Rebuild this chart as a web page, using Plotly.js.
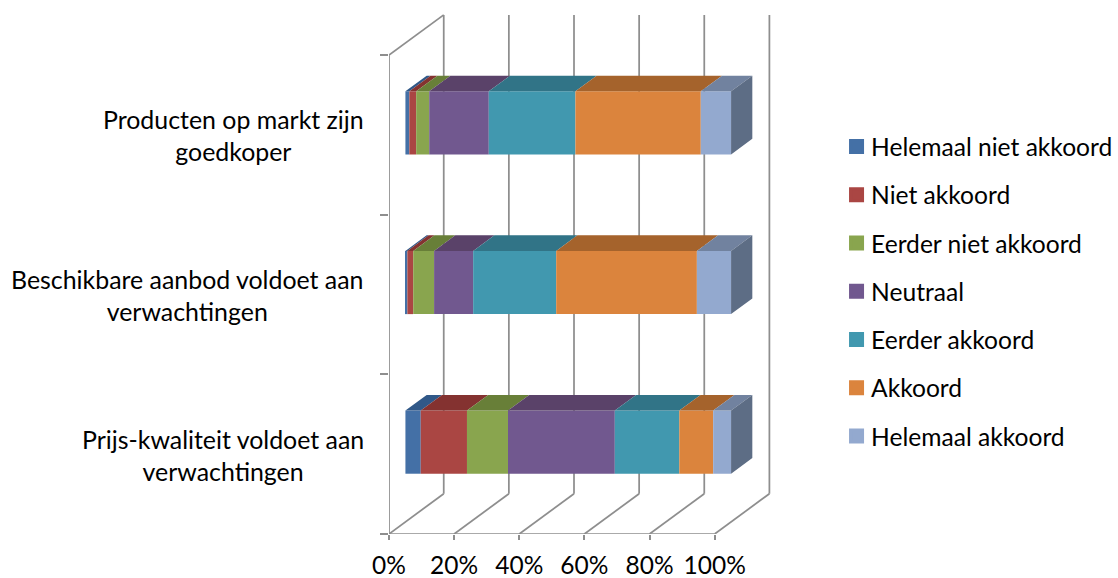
<!DOCTYPE html>
<html>
<head>
<meta charset="utf-8">
<script src="https://cdn.plot.ly/plotly-3.0.1.min.js"></script>
<style>
  html, body { margin: 0; padding: 0; background: #fff; }
  #chart { width: 1118px; height: 578px; }
</style>
</head>
<body>
<div id="chart"></div>
<script>
// Agreement survey: share of answers per statement, stacked to 100%.
const categories = [
  'Prijs-kwaliteit voldoet aan<br>verwachtingen',
  'Beschikbare aanbod voldoet aan<br>verwachtingen',
  'Producten op markt zijn<br>goedkoper'
];
const seriesNames = [
  'Helemaal niet akkoord', 'Niet akkoord', 'Eerder niet akkoord',
  'Neutraal', 'Eerder akkoord', 'Akkoord', 'Helemaal akkoord'
];
const helemaalNiet = [4.7, 0.6, 1.2];
const niet         = [14.2, 1.8, 2.1];
const eerderNiet   = [12.6, 6.4, 4.0];
const neutraal     = [32.8, 12.0, 18.3];
const eerder       = [19.8, 25.5, 26.6];
const akkoord      = [10.4, 43.2, 38.5];
const helemaal     = [5.5, 10.5, 9.3];
const seriesValues = [helemaalNiet, niet, eerderNiet, neutraal, eerder, akkoord, helemaal];

const frontColors = ['#4470a6', '#aa4643', '#89a54e', '#71588f', '#4198af', '#db843d', '#93a9cf'];
const topColors   = ['#305888', '#843230', '#687f38', '#5a4269', '#317487', '#a5632c', '#71829f'];
const sideColor = '#5d6d85';
const gridColor = '#8e8e8e';
const textColor = '#000000';
const fontFamily = 'Lato, "Open Sans", sans-serif';
const fontSize = 24.5;

// Page geometry of the front floor edge and the oblique depth axis.
const plotLeft = 389.3, plotRight = 773, plotBottom = 534.3, plotTop = 10;
const pxPerPct = 3.254, pxPerCat = 159.7;
const depthPxX = 54.7, depthPxY = 40.3;
const xMax = (plotRight - plotLeft) / pxPerPct;
const yMax = (plotBottom - plotTop) / pxPerCat;

// Oblique projection: depth 0 is the front plane, depth 1 the back wall.
const projX = (pct, d) => pct + d * depthPxX / pxPerPct;
const projY = (val, d) => val + d * depthPxY / pxPerCat;

const barFront = 0.3, barBack = 0.688, barThick = 0.396;
const catPos = categories.map((_, i) => i + 0.5);
const xTicks = [0, 20, 40, 60, 80, 100];
const yTicks = [0, 1, 2, 3];

const cumulative = categories.map(() => 0);
const barTraces = [], topTraces = [];

seriesValues.forEach((vals, s) => {
  const bases = vals.map((_, c) => cumulative[c]);
  barTraces.push({
    type: 'bar', orientation: 'h', name: seriesNames[s],
    legendgroup: seriesNames[s],
    x: vals,
    base: bases.map(b => projX(b, barFront)),
    y: catPos.map(p => projY(p, barFront)),
    width: barThick,
    marker: { color: frontColors[s], line: { width: 0 } },
    hoverinfo: 'name+x'
  });
  const tx = [], ty = [];
  vals.forEach((v, c) => {
    const top = catPos[c] + barThick / 2;
    const a = bases[c], b = bases[c] + v;
    tx.push(projX(a, barFront), projX(b, barFront), projX(b, barBack), projX(a, barBack), projX(a, barFront), null);
    ty.push(projY(top, barFront), projY(top, barFront), projY(top, barBack), projY(top, barBack), projY(top, barFront), null);
    cumulative[c] += v;
  });
  topTraces.push({
    type: 'scatter', mode: 'lines', x: tx, y: ty, fill: 'toself',
    fillcolor: topColors[s], line: { width: 0 },
    showlegend: false, hoverinfo: 'skip'
  });
});

// Right-hand end caps of the stacked bars.
const sideX = [], sideY = [];
catPos.forEach((p, c) => {
  const end = cumulative[c];
  const lo = p - barThick / 2, hi = p + barThick / 2;
  sideX.push(projX(end, barFront), projX(end, barFront), projX(end, barBack), projX(end, barBack), projX(end, barFront), null);
  sideY.push(projY(lo, barFront), projY(hi, barFront), projY(hi, barBack), projY(lo, barBack), projY(lo, barFront), null);
});
const sideTrace = {
  type: 'scatter', mode: 'lines', x: sideX, y: sideY, fill: 'toself',
  fillcolor: sideColor, line: { width: 0 }, showlegend: false, hoverinfo: 'skip'
};

// Floor edges, wall verticals and the outline of the side wall, behind the bars.
const wallLine = (x0, y0, x1, y1) => ({
  type: 'line', layer: 'below', xref: 'x', yref: 'y', x0, y0, x1, y1,
  line: { color: gridColor, width: 1.75 }
});
const shapes = [
  wallLine(0, 0, 0, 3),
  wallLine(0, 0, 100, 0),
  wallLine(projX(0, 0), 3, projX(0, 1), projY(3, 1))
];
xTicks.forEach(t => {
  shapes.push(wallLine(t, 0, projX(t, 1), projY(0, 1)));
  shapes.push(wallLine(projX(t, 1), projY(0, 1), projX(t, 1), projY(3, 1)));
});

const annotations = categories.map((text, i) => ({
  text, xref: 'paper', yref: 'y',
  x: (366 - plotLeft) / (plotRight - plotLeft), y: catPos[i],
  xanchor: 'right', yanchor: 'middle', align: 'center', showarrow: false,
  yshift: -0.5,
  font: { family: fontFamily, size: 24.9, color: textColor }
}));

const layout = {
  width: 1118, height: 578,
  paper_bgcolor: '#ffffff', plot_bgcolor: '#ffffff',
  margin: { l: plotLeft, r: 1118 - plotRight, t: plotTop, b: 578 - plotBottom, pad: 0, autoexpand: false },
  barmode: 'overlay',
  font: { family: fontFamily, size: fontSize, color: textColor },
  xaxis: {
    range: [0, xMax], tickmode: 'array', tickvals: xTicks,
    ticktext: xTicks.map(t => t + '%'),
    ticks: 'outside', ticklen: 5, tickwidth: 1.75, tickcolor: gridColor,
    showgrid: false, zeroline: false, showline: false, automargin: false,
    tickfont: { family: fontFamily, size: fontSize, color: textColor },
    ticklabelstandoff: 5
  },
  yaxis: {
    range: [0, yMax], tickmode: 'array', tickvals: yTicks,
    ticktext: yTicks.map(() => ''),
    ticks: 'outside', ticklen: 8, tickwidth: 1.75, tickcolor: gridColor,
    showgrid: false, zeroline: false, showline: false, automargin: false,
    showticklabels: false
  },
  legend: {
    x: (831 - plotLeft) / (plotRight - plotLeft), y: 1 - (124 - plotTop) / (plotBottom - plotTop),
    xanchor: 'left', yanchor: 'top',
    traceorder: 'grouped', tracegroupgap: 13.3,
    bgcolor: 'rgba(0,0,0,0)', borderwidth: 0,
    font: { family: fontFamily, size: 24.6, color: textColor }
  },
  shapes, annotations,
  showlegend: true
};

Plotly.newPlot('chart', [...barTraces, ...topTraces, sideTrace], layout,
  { displayModeBar: false, responsive: false }).then(() => {
  // Wider line spacing for the two-line category labels.
  document.querySelectorAll('.annotation-text').forEach(label => {
    const lines = label.querySelectorAll('tspan.line');
    if (lines.length > 1) lines[1].setAttribute('dy', '1.3em');
  });
  // Larger, closer legend swatches.
  document.querySelectorAll('.legend .legendpoints path').forEach((p, i) => {
    p.style.stroke = frontColors[i];
    p.style.strokeWidth = '3px';
    p.setAttribute('transform', 'translate(25.5,0)');
  });
});
</script>
</body>
</html>
